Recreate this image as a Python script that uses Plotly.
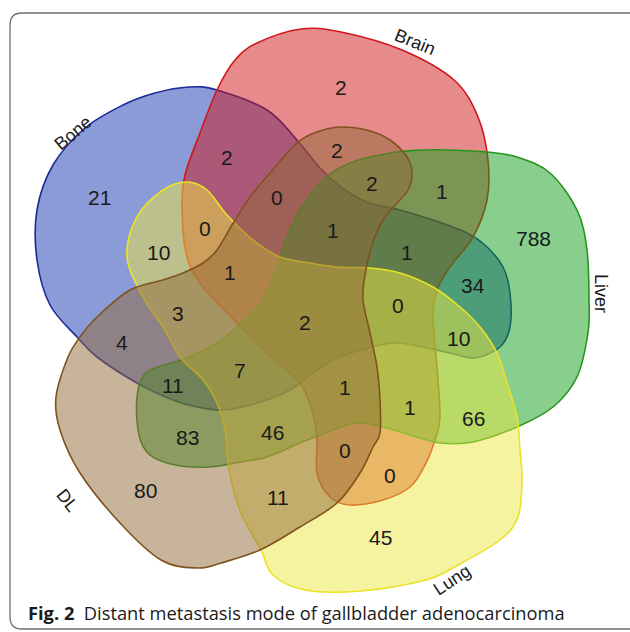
import plotly.graph_objects as go

# Sets of the five-way Venn diagram (drawing order, bottom to top)
set_names = ["Bone", "Brain", "Liver", "Lung", "DL"]

# Region membership and patient counts
region_sets = [
    "Bone", "Brain", "Liver", "Lung", "DL",
    "Bone&Brain", "Brain&DL", "Brain&Liver&DL", "Brain&Liver",
    "Bone&Brain&DL", "Bone&Brain&Lung", "Bone&Lung",
    "Bone&Brain&Liver&DL", "Bone&Brain&Liver", "Bone&Liver",
    "Bone&Brain&Lung&DL", "Bone&Lung&DL", "Bone&Brain&Liver&Lung&DL",
    "Bone&Brain&Liver&Lung", "Bone&Liver&Lung", "Bone&DL",
    "Bone&Liver&Lung&DL", "Bone&Liver&DL", "Brain&Liver&Lung&DL",
    "Brain&Liver&Lung", "Liver&Lung", "Liver&DL", "Liver&Lung&DL",
    "Brain&Lung&DL", "Brain&Lung", "Lung&DL",
]
region_counts = [
    21, 2, 788, 45, 80,
    2, 2, 2, 1,
    0, 0, 10,
    1, 1, 34,
    1, 3, 2,
    0, 10, 4,
    7, 11, 1,
    1, 66, 83, 46,
    0, 0, 11,
]

# Where each count sits inside its region (pixel space of the panel)
label_pos = {
    "Bone": (99, 197), "Brain": (341, 87), "Liver": (533, 238),
    "Lung": (380, 537), "DL": (145, 490),
    "Bone&Brain": (227, 157), "Brain&DL": (337, 150),
    "Brain&Liver&DL": (372, 183), "Brain&Liver": (442, 191),
    "Bone&Brain&DL": (277, 197), "Bone&Brain&Lung": (205, 228),
    "Bone&Lung": (158, 252), "Bone&Brain&Liver&DL": (333, 230),
    "Bone&Brain&Liver": (407, 252), "Bone&Liver": (473, 285),
    "Bone&Brain&Lung&DL": (230, 272), "Bone&Lung&DL": (178, 313),
    "Bone&Brain&Liver&Lung&DL": (305, 322),
    "Bone&Brain&Liver&Lung": (398, 305), "Bone&Liver&Lung": (458, 338),
    "Bone&DL": (122, 342), "Bone&Liver&Lung&DL": (240, 370),
    "Bone&Liver&DL": (173, 385), "Brain&Liver&Lung&DL": (345, 387),
    "Brain&Liver&Lung": (410, 407), "Liver&Lung": (473, 418),
    "Liver&DL": (187, 437), "Liver&Lung&DL": (272, 432),
    "Brain&Lung&DL": (345, 450), "Brain&Lung": (390, 475),
    "Lung&DL": (278, 497),
}

# Outline of every set (control points of a closed smooth curve)
outlines = {
    "Bone": [(189, 87), (217, 90), (267, 110), (297, 140), (320, 168), (345, 190),
             (370, 203), (400, 210), (433, 220), (467, 233), (487, 247), (503, 267),
             (510, 293), (510, 327), (500, 347), (475, 358), (450, 353), (400, 343),
             (373, 347), (340, 357), (317, 370), (290, 390), (257, 403), (223, 410),
             (197, 407), (173, 400), (137, 383), (97, 357), (77, 337), (50, 305),
             (37, 260), (37, 210), (53, 165), (85, 128), (123, 105), (155, 93)],
    "Brain": [(257, 43), (301, 29), (341, 32), (402, 50), (454, 80), (478, 117),
              (488, 160), (487, 200), (473, 237), (450, 267), (437, 290), (433, 317),
              (437, 367), (440, 417), (435, 440), (425, 465), (410, 487), (383, 500),
              (350, 505), (330, 497), (317, 473), (317, 440), (312, 410), (300, 383),
              (275, 360), (255, 342), (237, 323), (203, 287), (187, 257), (182, 210),
              (185, 175), (200, 133), (217, 90), (235, 60)],
    "Liver": [(181, 360), (210, 347), (237, 327), (263, 300), (277, 268), (286, 240),
              (300, 210), (323, 180), (350, 163), (390, 153), (423, 150), (450, 150),
              (487, 152), (517, 157), (550, 173), (577, 210), (587, 250), (589, 300),
              (588, 333), (577, 377), (553, 407), (517, 427), (473, 442), (440, 443),
              (417, 437), (383, 427), (357, 423), (333, 430), (300, 443), (267, 457),
              (241, 462), (209, 467), (175, 465), (150, 455), (139, 435), (137, 397),
              (147, 372)],
    "Lung": [(127, 257), (137, 217), (163, 190), (187, 182), (207, 190), (227, 215),
             (253, 240), (280, 257), (310, 263), (337, 267), (370, 268), (400, 273),
             (433, 287), (460, 307), (480, 327), (497, 353), (507, 383), (517, 417),
             (520, 450), (522, 480), (518, 517), (500, 540), (458, 565), (426, 580),
             (361, 591), (305, 590), (273, 575), (261, 550), (241, 513), (229, 470),
             (225, 430), (217, 403), (203, 380), (180, 357), (163, 327), (143, 297)],
    "DL": [(250, 197), (270, 173), (297, 143), (317, 132), (340, 127), (367, 130),
           (390, 140), (407, 157), (412, 173), (408, 190), (397, 203), (383, 220),
           (372, 245), (365, 275), (363, 300), (370, 333), (377, 367), (380, 400),
           (380, 433), (373, 447), (360, 473), (337, 503), (300, 527), (260, 550),
           (221, 563), (197, 568), (161, 560), (120, 523), (80, 473), (60, 430),
           (56, 397), (68, 357), (80, 337), (97, 317), (130, 290), (163, 280),
           (183, 273), (203, 263), (217, 250), (232, 225)],
}

fill_colors = {
    "Bone": "rgba(22,55,175,0.5)",
    "Brain": "rgba(205,22,26,0.5)",
    "Liver": "rgba(18,160,28,0.5)",
    "Lung": "rgba(236,230,66,0.5)",
    "DL": "rgba(145,104,56,0.5)",
}
line_colors = {
    "Bone": "#1c2a98",
    "Brain": "#d0161a",
    "Liver": "#27951d",
    "Lung": "#eae225",
    "DL": "#80531e",
}

# Set name labels: position and rotation
name_pos = {
    "Bone": (73, 133, -40),
    "Brain": (415, 42, 22),
    "Liver": (601, 293, 90),
    "Lung": (452, 580, -33),
    "DL": (67, 500, 52),
}


def smooth_closed_path(pts, tension=1.0):
    """Closed Catmull-Rom spline through pts, written as an SVG path."""
    n = len(pts)
    d = f"M {pts[0][0]},{pts[0][1]}"
    for i in range(n):
        p0 = pts[(i - 1) % n]
        p1 = pts[i]
        p2 = pts[(i + 1) % n]
        p3 = pts[(i + 2) % n]
        c1 = (p1[0] + (p2[0] - p0[0]) / 6 * tension, p1[1] + (p2[1] - p0[1]) / 6 * tension)
        c2 = (p2[0] - (p3[0] - p1[0]) / 6 * tension, p2[1] - (p3[1] - p1[1]) / 6 * tension)
        d += f" C {c1[0]:.2f},{c1[1]:.2f} {c2[0]:.2f},{c2[1]:.2f} {p2[0]},{p2[1]}"
    return d + " Z"


fig = go.Figure()

shapes = []
# Figure frame with rounded corners
r = 12
fx0, fy0, fx1, fy1 = 10, 13, 645, 629
frame = (f"M {fx0 + r},{fy0} L {fx1 - r},{fy0} Q {fx1},{fy0} {fx1},{fy0 + r} "
         f"L {fx1},{fy1 - r} Q {fx1},{fy1} {fx1 - r},{fy1} L {fx0 + r},{fy1} "
         f"Q {fx0},{fy1} {fx0},{fy1 - r} L {fx0},{fy0 + r} Q {fx0},{fy0} {fx0 + r},{fy0} Z")
shapes.append(dict(type="path", path=frame, xref="x", yref="y",
                   line=dict(color="#6e6e6e", width=1.3), fillcolor="rgba(0,0,0,0)",
                   layer="below"))

for name in set_names:
    shapes.append(dict(type="path", path=smooth_closed_path(outlines[name]),
                       xref="x", yref="y", fillcolor=fill_colors[name],
                       line=dict(color=line_colors[name], width=1.6), layer="above"))

annotations = []
for key, count in zip(region_sets, region_counts):
    x, y = label_pos[key]
    annotations.append(dict(x=x, y=y, xref="x", yref="y", text=str(count),
                            showarrow=False,
                            font=dict(family="Liberation Sans, Arial", size=21,
                                      color="#1a1a1a")))

for name in set_names:
    x, y, ang = name_pos[name]
    annotations.append(dict(x=x, y=y, xref="x", yref="y", text=name,
                            showarrow=False, textangle=ang,
                            font=dict(family="Liberation Sans, Arial", size=18,
                                      color="#1a1a1a")))

annotations.append(dict(
    x=26, y=612, xref="x", yref="y", xanchor="left", yanchor="middle",
    text="<b>Fig. 2</b>  Distant metastasis mode of gallbladder adenocarcinoma",
    showarrow=False,
    font=dict(family="Open Sans, Noto Sans", size=18.3, color="#1a1a1a")))

fig.update_layout(
    width=630, height=632,
    margin=dict(l=0, r=0, t=0, b=0),
    paper_bgcolor="white", plot_bgcolor="white",
    xaxis=dict(range=[0, 630], visible=False, fixedrange=True),
    yaxis=dict(range=[632, 0], visible=False, fixedrange=True),
    shapes=shapes, annotations=annotations, showlegend=False,
)

fig.write_html("out.html")
